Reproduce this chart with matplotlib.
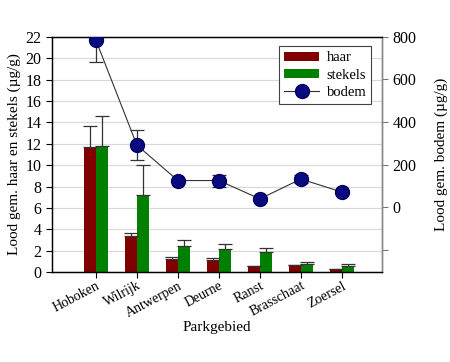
import numpy as np
import matplotlib
matplotlib.use("Agg")
import matplotlib.pyplot as plt

plt.rcParams['font.family'] = ['Liberation Serif', 'DejaVu Serif']

# gegevens
parken = ["Hoboken", "Wilrijk", "Antwerpen", "Deurne", "Ranst", "Brasschaat", "Zoersel"]
haar = [11.7, 3.35, 1.22, 1.15, 0.58, 0.66, 0.32]
haar_err = [2.0, 0.35, 0.18, 0.16, 0.0, 0.0, 0.0]
stekels = [11.8, 7.2, 2.5, 2.2, 1.88, 0.82, 0.62]
stekels_err = [2.8, 2.85, 0.5, 0.4, 0.35, 0.1, 0.12]
bodem = [784, 292, 126, 126, 40, 133, 72]
bodem_err = [102, 72, 8, 28, 6, 20, 8]

x = np.arange(len(parken))
w = 0.3

fig = plt.figure(figsize=(4.5, 3.62), dpi=100)
ax = fig.add_axes([0.1156, 0.2478, 0.7334, 0.6508])
ax2 = ax.twinx()

ek = dict(ecolor='#333333', elinewidth=0.9, capsize=5, capthick=0.9)
b1 = ax.bar(x - w / 2, haar, w, color='#800000', zorder=2)
ax.errorbar(x - w / 2, haar, yerr=[np.zeros(len(haar)), haar_err], fmt='none', zorder=3, **ek)
b2 = ax.bar(x + w / 2, stekels, w, color='#008000', zorder=2)
ax.errorbar(x + w / 2, stekels, yerr=[np.zeros(len(stekels)), stekels_err], fmt='none', zorder=3, **ek)

ax2.errorbar(x, bodem, yerr=bodem_err, fmt='none', zorder=2, **ek)
l1, = ax2.plot(x, bodem, '-', color='#333333', lw=0.8, marker='o', markersize=10,
               markerfacecolor='#0a0a80', markeredgecolor='#000060', zorder=3)

ax.set_xlim(-1.07, 6.98)
ax.set_ylim(0, 22)
ax.set_yticks(np.arange(0, 23, 2))
ax.yaxis.grid(True, color='#d8d8d8', lw=0.8, zorder=0)
ax.set_axisbelow(True)
ax.set_xticks(x)
ax.set_xticklabels(parken, rotation=28, ha='right', rotation_mode='anchor', fontsize=10)
ax.tick_params(axis='y', labelsize=11.5, length=4, direction='out')
ax.tick_params(axis='x', length=4, direction='out', pad=1)
ax.set_ylabel("Lood gem. haar en stekels (µg/g)", fontsize=11, labelpad=3)
ax.set_xlabel("Parkgebied", fontsize=11, labelpad=1)

ax2.set_ylim(-304, 800)
ax2.set_yticks([-200, 0, 200, 400, 600, 800])
ax2.set_yticklabels(["", "0", "200", "400", "600", "800"])
ax2.tick_params(axis='y', labelsize=11.5, length=4, direction='out', color='#777777')
ax2.spines['right'].set_color('#888888')
ax2.set_ylabel("Lood gem. bodem (µg/g)", fontsize=11, labelpad=13)

for a in (ax, ax2):
    for s in a.spines.values():
        s.set_linewidth(0.9)

leg = ax2.legend([b1, b2, l1], ["haar", "stekels", "bodem"], loc='upper right',
                 bbox_to_anchor=(0.99, 0.99), fontsize=10.5, frameon=True, fancybox=False,
                 framealpha=1, edgecolor='#444444', handlelength=2.4, handleheight=0.55,
                 borderpad=0.35, labelspacing=0.3, handletextpad=0.5)
leg.get_frame().set_linewidth(0.8)

fig.savefig("out.png", dpi=100)
